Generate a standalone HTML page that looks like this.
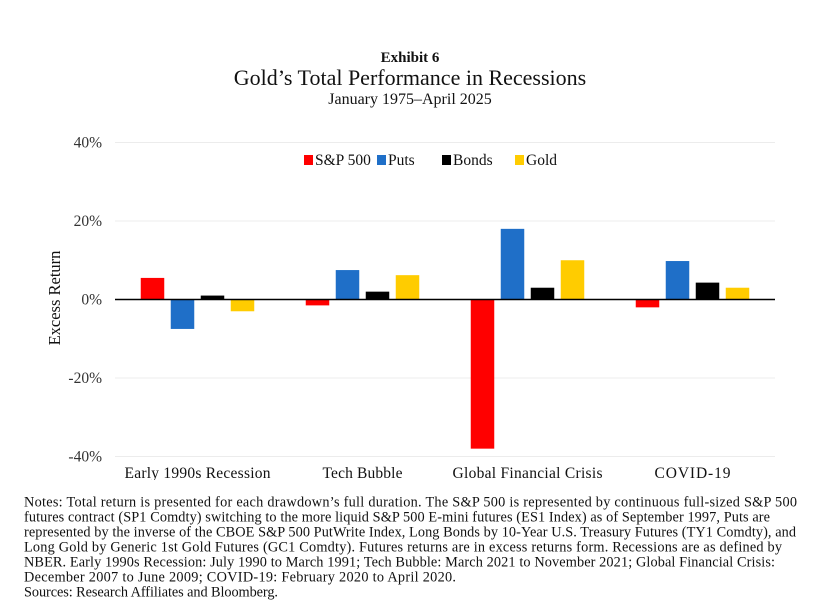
<!DOCTYPE html>
<html><head><meta charset="utf-8"><style>
body{margin:0;background:#fff;}
#wrap{position:relative;width:820px;height:615px;font-family:"Liberation Serif",serif;color:#111;}
.t{position:absolute;left:0;width:820px;text-align:center;}
</style></head><body>
<div id="wrap">
<div class="t" style="top:50px;font-size:15px;font-weight:bold">Exhibit 6</div>
<div class="t" style="top:65px;font-size:22px">Gold’s Total Performance in Recessions</div>
<div class="t" style="top:91px;font-size:16px">January 1975–April 2025</div>
<svg id="chart" width="820" height="480" style="position:absolute;left:0;top:0"></svg>
<svg width="820" height="130" style="position:absolute;left:0;top:485px" font-family="Liberation Serif, serif" font-size="14.3" fill="#111">
<text x="24" y="21.5" textLength="773" lengthAdjust="spacing">Notes: Total return is presented for each drawdown’s full duration. The S&amp;P 500 is represented by continuous full-sized S&amp;P 500</text>
<text x="24" y="36.5" textLength="746" lengthAdjust="spacing">futures contract (SP1 Comdty) switching to the more liquid S&amp;P 500 E-mini futures (ES1 Index) as of September 1997, Puts are</text>
<text x="24" y="51.5" textLength="772" lengthAdjust="spacing">represented by the inverse of the CBOE S&amp;P 500 PutWrite Index, Long Bonds by 10-Year U.S. Treasury Futures (TY1 Comdty), and</text>
<text x="24" y="66.5" textLength="758" lengthAdjust="spacing">Long Gold by Generic 1st Gold Futures (GC1 Comdty). Futures returns are in excess returns form. Recessions are as defined by</text>
<text x="24" y="81.5" textLength="751" lengthAdjust="spacing">NBER. Early 1990s Recession: July 1990 to March 1991; Tech Bubble: March 2021 to November 2021; Global Financial Crisis:</text>
<text x="24" y="96.5" textLength="432" lengthAdjust="spacing">December 2007 to June 2009; COVID-19: February 2020 to April 2020.</text>
<text x="24" y="111.5" textLength="254" lengthAdjust="spacing">Sources: Research Affiliates and Bloomberg.</text>
</svg>
</div>
<script>
const categories=["Early 1990s Recession","Tech Bubble","Global Financial Crisis","COVID-19"];
const seriesNames=["S&P 500","Puts","Bonds","Gold"];
const sp500=[5.5,-1.5,-38,-2];
const puts=[-7.5,7.5,18,9.8];
const bonds=[1,2,3,4.3];
const gold=[-3,6.2,10,3];
const tickValues=[40,20,0,-20,-40];
const tickLabels=["40%","20%","0%","-20%","-40%"];
const colors=["#ff0000","#1f6fc8","#000000","#ffcc00"];
const series=[sp500,puts,bonds,gold];
const NS="http://www.w3.org/2000/svg";
const svg=document.getElementById('chart');
const x0=115,x1=775,y40=142.5,yPer=78.5/20;
function yS(v){return y40+(40-v)*yPer;}
const gw=(x1-x0)/categories.length;
function xC(i){return x0+gw*(i+0.5);}
function mk(tag,a){const e=document.createElementNS(NS,tag);for(const k in a)e.setAttribute(k,a[k]);svg.appendChild(e);return e;}
tickValues.forEach((v,i)=>{
  if(v!==0){const g=mk('line',{x1:x0,x2:x1,y1:yS(v),y2:yS(v),stroke:'#ececec','stroke-width':1});
  
  }
  const t=mk('text',{x:102,y:yS(v)+5,'text-anchor':'end','font-size':15.5,'font-family':'Liberation Serif, serif',fill:'#333'});
  t.textContent=tickLabels[i];
  
  
});
const bw=23.5,step=30;
series.forEach((s,si)=>{
  s.forEach((v,ci)=>{
    const x=xC(ci)+(si-1.5)*step-bw/2;
    const y=Math.min(yS(v),yS(0));
    const r=mk('rect',{x:x,y:y,width:bw,height:Math.abs(yS(v)-yS(0)),fill:colors[si]});
    
    
  });
});
const z=mk('line',{x1:x0,x2:x1,y1:yS(0),y2:yS(0),stroke:'#000','stroke-width':1.5});


const xw=[146,80,150,76];
categories.forEach((c,i)=>{
  const t=mk('text',{x:xC(i),y:478,'text-anchor':'middle','font-size':15.5,'font-family':'Liberation Serif, serif',fill:'#111',textLength:xw[i],lengthAdjust:'spacing'});
  t.textContent=c;
  
  
});
const yt=mk('text',{x:0,y:0,'text-anchor':'middle','font-size':16.5,'font-family':'Liberation Serif, serif',fill:'#111',transform:'translate(60,298) rotate(-90)'});
yt.textContent='Excess Return';


const lx=[304,377,442,515];
seriesNames.forEach((n,i)=>{
  const r=mk('rect',{x:lx[i],y:155,width:9,height:10,fill:colors[i]});
  
  
  const t=mk('text',{x:lx[i]+11,y:165,'font-size':15.5,'font-family':'Liberation Serif, serif',fill:'#111'});
  t.textContent=n;
  
  
});
</script>
</body></html>
